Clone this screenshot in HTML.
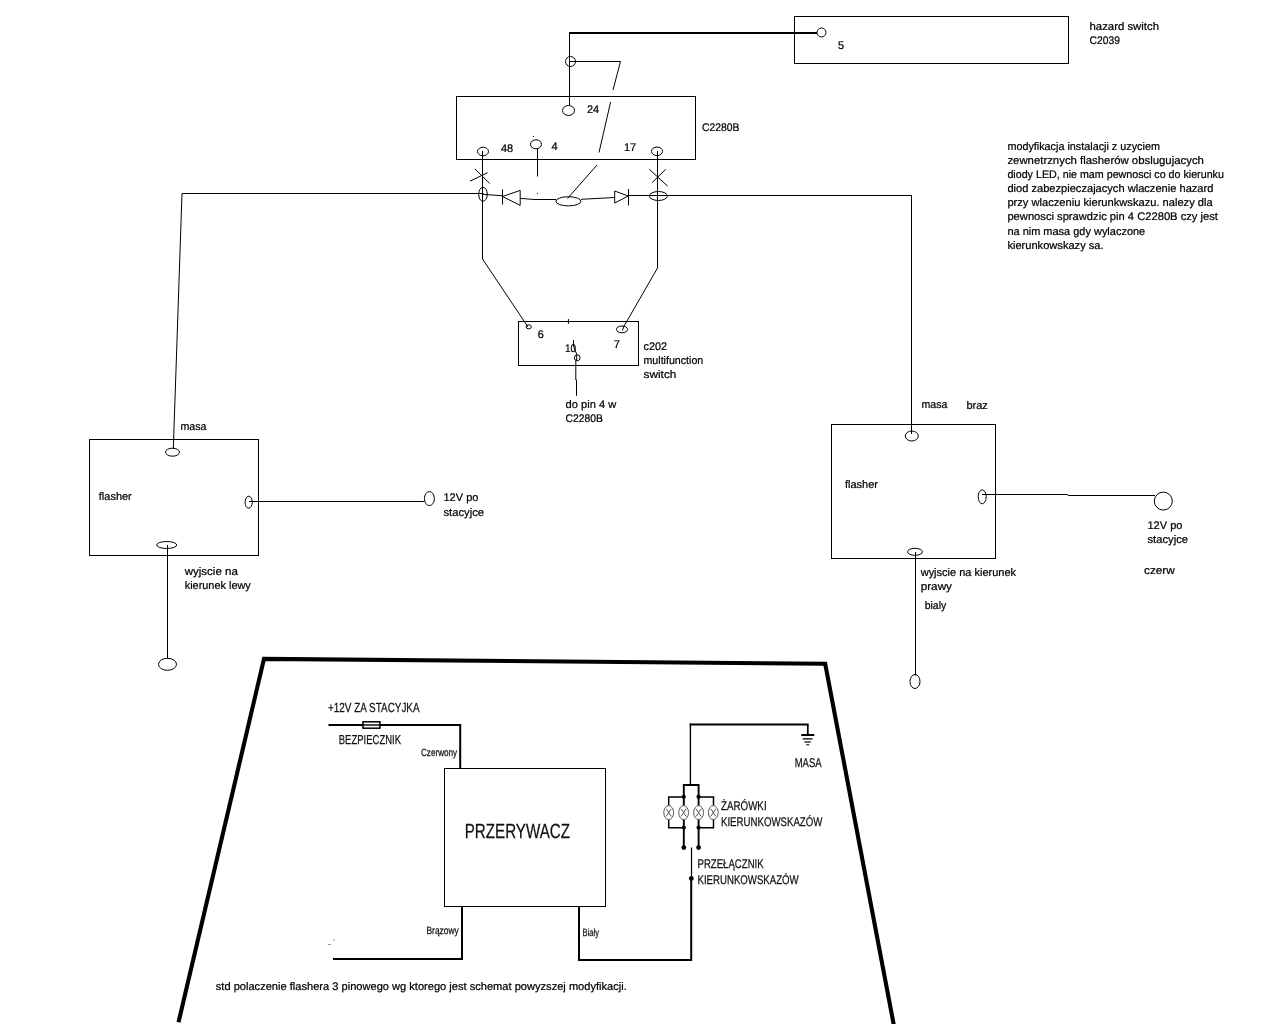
<!DOCTYPE html>
<html lang="pl">
<head>
<meta charset="utf-8">
<title>Schemat modyfikacji kierunkowskazów</title>
<style>
html,body{margin:0;padding:0;background:#fff;}
body{width:1280px;height:1024px;overflow:hidden;position:relative;}
svg{display:block;position:absolute;left:0;top:0;will-change:transform;text-rendering:geometricPrecision;}
text{font-family:"Liberation Sans",Arial,sans-serif;fill:#000;}
.t{font-size:11px;stroke:#000;stroke-width:0.22;}
.t12{font-size:12px;}
.n{fill:#111;stroke:#111;stroke-width:0.25;}
.l{stroke:#000;stroke-width:1;fill:none;}
.l15{stroke:#000;stroke-width:2;fill:none;}
.l2{stroke:#000;stroke-width:2;fill:none;}
.k{stroke:#000;stroke-width:4.1;fill:none;stroke-linejoin:miter;}
.e{stroke:#000;stroke-width:1;fill:none;}
.d{fill:#000;stroke:none;}
</style>
</head>
<body>
<svg width="1280" height="1024" viewBox="0 0 1280 1024">
<rect x="0" y="0" width="1280" height="1024" fill="#fff"/>

<!-- ===== hazard switch ===== -->
<g id="hazard">
<rect class="l" x="794.5" y="16.5" width="274" height="47"/>
<line class="l2" x1="569" y1="33" x2="817" y2="33"/>
<ellipse class="e" cx="821.5" cy="32.5" rx="4.5" ry="4.5"/>
<text class="t" x="838" y="49">5</text>
<text class="t" x="1089.5" y="30" textLength="69.5" lengthAdjust="spacingAndGlyphs">hazard switch</text>
<text class="t" x="1089.5" y="44" textLength="30.4" lengthAdjust="spacingAndGlyphs">C2039</text>
</g>

<!-- ===== C2280B ===== -->
<g id="c2280b">
<line class="l" x1="569.5" y1="33" x2="569.5" y2="105.5"/>
<ellipse class="e" cx="570.5" cy="61.5" rx="5" ry="5"/>
<polyline class="l" points="570,61.5 620.5,61.5 613,90"/>
<line class="l" x1="610.6" y1="102" x2="599" y2="152.5"/>
<line class="l" x1="597" y1="165" x2="567.5" y2="198.5"/>
<rect class="l" x="456.5" y="96.5" width="239" height="63"/>
<ellipse class="e" cx="568.5" cy="110.5" rx="6" ry="5"/>
<text class="t" x="587" y="113">24</text>
<ellipse class="e" cx="483" cy="151.5" rx="5.5" ry="4.3"/>
<text class="t" x="501" y="152">48</text>
<ellipse class="e" cx="536" cy="144.3" rx="5.5" ry="4.5"/>
<text class="t" x="551.5" y="149.5">4</text>
<line class="l" x1="537.5" y1="148.5" x2="537.5" y2="176.5"/>
<text class="t" x="624" y="150.5">17</text>
<ellipse class="e" cx="657" cy="151.3" rx="5.5" ry="4.3"/>
<text class="t" x="702" y="131" textLength="37.3" lengthAdjust="spacingAndGlyphs">C2280B</text>
<rect class="d" x="533" y="136" width="1" height="1"/>
<rect class="d" x="537" y="193" width="1" height="1"/>
</g>

<!-- ===== wires / diodes ===== -->
<g id="wires">
<!-- left wire -->
<polyline class="l" points="483.5,193.5 182,193.5 173.3,449"/>
<polyline class="l" points="482.5,151 482.5,259 528,327"/>
<polyline class="l" points="657.5,151 657.5,268 623.5,327 622.5,330.5"/>
<polyline class="l" points="628.5,195.5 911.5,195.5 911.5,434"/>
<!-- X marks -->
<line class="l" x1="470" y1="181.2" x2="487.6" y2="172.7"/>
<line class="l" x1="475" y1="169" x2="489.6" y2="183.4"/>
<line class="l" x1="649.4" y1="169.4" x2="667.7" y2="186.2"/>
<line class="l" x1="665.7" y1="169.4" x2="652.2" y2="182.5"/>
<!-- ellipses on junctions -->
<ellipse class="e" cx="483" cy="194.3" rx="4.3" ry="7"/>
<ellipse class="e" cx="658.4" cy="196" rx="9" ry="4.5"/>
<!-- left diode -->
<line class="l" x1="483" y1="194.3" x2="502.5" y2="195.8"/>
<line class="l" x1="502.5" y1="189.5" x2="502.5" y2="204.5"/>
<polygon class="l" points="502.5,196.5 520.2,190.4 520.2,205.4"/>
<polyline class="l" points="520.2,198.4 535,199.5 556,199.5"/>
<ellipse class="e" cx="568.4" cy="201.3" rx="12.5" ry="4.6"/>
<line class="l" x1="581" y1="199.3" x2="615" y2="197.5"/>
<!-- right diode -->
<polygon class="l" points="614.7,191 614.7,203 628.2,196"/>
<line class="l" x1="628.5" y1="189" x2="628.5" y2="205.5"/>
</g>

<!-- ===== c202 multifunction switch ===== -->
<g id="c202">
<rect class="l" x="518.5" y="321.5" width="120" height="44"/>
<line class="l" x1="568.4" y1="319" x2="568.4" y2="324"/>
<ellipse class="e" cx="528.7" cy="326.8" rx="2.6" ry="2"/>
<text class="t" x="537.7" y="337.6">6</text>
<ellipse class="e" cx="622" cy="329.4" rx="5.6" ry="3.4"/>
<text class="t" x="613.8" y="347.5">7</text>
<text class="t" x="564.9" y="351.8" textLength="11.2" lengthAdjust="spacingAndGlyphs">10</text>
<polyline class="l" points="573.5,340 573.5,346 576.8,354.5 576.5,361"/>
<ellipse class="e" cx="577.2" cy="357.8" rx="2.8" ry="3"/>
<polyline class="l" points="575.8,360.5 575.8,380 576.5,380 576.5,395.8"/>
<text class="t" x="643.5" y="350" textLength="23.5" lengthAdjust="spacingAndGlyphs">c202</text>
<text class="t" x="643.5" y="364" textLength="59.8" lengthAdjust="spacingAndGlyphs">multifunction</text>
<text class="t" x="643.5" y="377.5" textLength="32.9" lengthAdjust="spacingAndGlyphs">switch</text>
<text class="t" x="565.6" y="408" textLength="50.7" lengthAdjust="spacingAndGlyphs">do pin 4 w</text>
<text class="t" x="565.6" y="421.5" textLength="37.3" lengthAdjust="spacingAndGlyphs">C2280B</text>
</g>

<!-- ===== left flasher ===== -->
<g id="flasherL">
<rect class="l" x="89.5" y="439.5" width="169" height="116"/>
<ellipse class="e" cx="172.5" cy="452.2" rx="7" ry="4"/>
<text class="t" x="180.4" y="429.5" textLength="26" lengthAdjust="spacingAndGlyphs">masa</text>
<text class="t" x="98.8" y="500" textLength="33" lengthAdjust="spacingAndGlyphs">flasher</text>
<ellipse class="e" cx="248.7" cy="502.2" rx="3.6" ry="6"/>
<line class="l" x1="249" y1="501.5" x2="424.5" y2="501.5"/>
<ellipse class="e" cx="429.4" cy="498.6" rx="5" ry="7"/>
<text class="t" x="443.5" y="501">12V po</text>
<text class="t" x="443.5" y="516" textLength="40.6" lengthAdjust="spacingAndGlyphs">stacyjce</text>
<ellipse class="e" cx="166.7" cy="545" rx="10" ry="3.5"/>
<line class="l" x1="167.5" y1="545" x2="167.5" y2="658.5"/>
<ellipse class="e" cx="167.5" cy="664.3" rx="9" ry="6"/>
<text class="t" x="184.7" y="574.8" textLength="53.2" lengthAdjust="spacingAndGlyphs">wyjscie na</text>
<text class="t" x="184.7" y="589" textLength="66.1" lengthAdjust="spacingAndGlyphs">kierunek lewy</text>
</g>

<!-- ===== right flasher ===== -->
<g id="flasherR">
<rect class="l" x="831.5" y="424.5" width="164" height="134"/>
<ellipse class="e" cx="911.8" cy="436" rx="6.5" ry="5"/>
<text class="t" x="921.5" y="408" textLength="26" lengthAdjust="spacingAndGlyphs">masa</text>
<text class="t" x="966.4" y="409">braz</text>
<text class="t" x="845" y="487.5" textLength="33" lengthAdjust="spacingAndGlyphs">flasher</text>
<ellipse class="e" cx="982.2" cy="496.8" rx="4" ry="7"/>
<polyline class="l" points="982,494.5 1067.5,494.5 1068,495.5 1155,495.5"/>
<ellipse class="e" cx="1163.3" cy="501.1" rx="9" ry="9"/>
<text class="t" x="1147.5" y="529">12V po</text>
<text class="t" x="1147.5" y="543" textLength="40.6" lengthAdjust="spacingAndGlyphs">stacyjce</text>
<text class="t" x="1144" y="574" textLength="30.8" lengthAdjust="spacingAndGlyphs">czerw</text>
<ellipse class="e" cx="915" cy="551.8" rx="7.5" ry="3.5"/>
<line class="l" x1="915.5" y1="552" x2="915.5" y2="675.5"/>
<ellipse class="e" cx="915" cy="681.5" rx="5" ry="7"/>
<text class="t" x="920.7" y="576" textLength="95.3" lengthAdjust="spacingAndGlyphs">wyjscie na kierunek</text>
<text class="t" x="920.7" y="590" textLength="31.3" lengthAdjust="spacingAndGlyphs">prawy</text>
<text class="t" x="924.7" y="608.5" textLength="21.6" lengthAdjust="spacingAndGlyphs">bialy</text>
</g>

<!-- ===== description ===== -->
<g id="opis">
<text class="t" x="1007.4" y="150" textLength="152.5" lengthAdjust="spacingAndGlyphs">modyfikacja instalacji z uzyciem</text>
<text class="t" x="1007.4" y="164" textLength="196.5" lengthAdjust="spacingAndGlyphs">zewnetrznych flasherów obslugujacych</text>
<text class="t" x="1007.4" y="178" textLength="216.5" lengthAdjust="spacingAndGlyphs">diody LED, nie mam pewnosci co do kierunku</text>
<text class="t" x="1007.4" y="192.3" textLength="206" lengthAdjust="spacingAndGlyphs">diod zabezpieczajacych wlaczenie hazard</text>
<text class="t" x="1007.4" y="206.3" textLength="205.3" lengthAdjust="spacingAndGlyphs">przy wlaczeniu kierunkwskazu. nalezy dla</text>
<text class="t" x="1007.4" y="220.4" textLength="210.5" lengthAdjust="spacingAndGlyphs">pewnosci sprawdzic pin 4 C2280B czy jest</text>
<text class="t" x="1007.4" y="234.6" textLength="137.8" lengthAdjust="spacingAndGlyphs">na nim masa gdy wylaczone</text>
<text class="t" x="1007.4" y="248.8" textLength="96.2" lengthAdjust="spacingAndGlyphs">kierunkowskazy sa.</text>
</g>

<!-- ===== bottom standard diagram ===== -->
<g id="std">
<polyline class="k" points="178.5,1022.3 264,658.9 825.2,663.8 894,1026"/>
<text class="n" x="328" y="711.8" font-size="13.2" textLength="91.6" lengthAdjust="spacingAndGlyphs">+12V ZA STACYJKA</text>
<polyline class="l15" points="328.5,725 460.2,725 460.2,768.5"/>
<rect x="363" y="721.8" width="16.9" height="6.4" fill="#fff" stroke="#000" stroke-width="1.5"/>
<line class="l" x1="362" y1="725" x2="381" y2="725" style="stroke-width:1.4"/>
<text class="n" x="338.8" y="743.8" font-size="13" textLength="62.2" lengthAdjust="spacingAndGlyphs">BEZPIECZNIK</text>
<text class="n" x="421" y="755.8" font-size="10.5" textLength="36.1" lengthAdjust="spacingAndGlyphs">Czerwony</text>
<rect class="l" x="444.5" y="768.5" width="161" height="138"/>
<text class="n" x="464.7" y="837.6" font-size="20.5" textLength="105.3" lengthAdjust="spacingAndGlyphs">PRZERYWACZ</text>
<text class="n" x="426.5" y="933.8" font-size="10.5" textLength="32.3" lengthAdjust="spacingAndGlyphs">Brązowy</text>
<polyline class="l15" points="462,906.5 462,959 333,959"/>
<line class="l" x1="328" y1="944.5" x2="331" y2="944.5" style="stroke:#999"/>
<line class="l" x1="333.5" y1="939" x2="334.5" y2="941" style="stroke:#999"/>
<polyline class="l15" points="579,906.5 579,960 691.2,960 691.2,878"/>
<line class="l" x1="691.5" y1="847.5" x2="691.5" y2="878" style="stroke-width:1.2"/>
<text class="n" x="582.6" y="935.6" font-size="10.5" textLength="16.4" lengthAdjust="spacingAndGlyphs">Biały</text>
<text class="t" x="215.8" y="989.6" textLength="411" lengthAdjust="spacingAndGlyphs">std polaczenie flashera 3 pinowego wg ktorego jest schemat powyzszej modyfikacji.</text>

<!-- ground -->
<line x1="690.4" y1="723.5" x2="690.4" y2="785" stroke="#000" stroke-width="1.4"/>
<line x1="689.7" y1="724.5" x2="808.6" y2="724.5" stroke="#000" stroke-width="2"/>
<line x1="807.8" y1="724.5" x2="807.8" y2="735" stroke="#000" stroke-width="1.7"/>
<line class="l2" x1="801.3" y1="735" x2="814.3" y2="735"/>
<line class="l" x1="802.7" y1="738.9" x2="812.5" y2="738.9" style="stroke-width:1.3"/>
<line class="l" x1="804.5" y1="742" x2="810.8" y2="742" style="stroke-width:1.2"/>
<line class="l" x1="806.2" y1="744.8" x2="809.3" y2="744.8"/>
<text class="n" x="794.7" y="767" font-size="12.8" textLength="27" lengthAdjust="spacingAndGlyphs">MASA</text>

<!-- bulbs -->
<polyline points="683.8,805.5 683.8,785 698.6,785 698.6,805.5" stroke="#000" stroke-width="1.9" fill="none"/>
<polyline points="683.8,797 668.7,797 668.7,805.5" stroke="#000" stroke-width="1.5" fill="none"/>
<polyline points="698.6,797 713.5,797 713.5,805.5" stroke="#000" stroke-width="1.5" fill="none"/>
<polyline points="668.7,819.5 668.7,827.8 683.8,827.8" stroke="#000" stroke-width="1.5" fill="none"/>
<polyline points="713.5,819.5 713.5,827.8 698.6,827.8" stroke="#000" stroke-width="1.5" fill="none"/>
<line x1="683.8" y1="819.5" x2="683.8" y2="847.5" stroke="#000" stroke-width="1.9"/>
<line x1="698.6" y1="819.5" x2="698.6" y2="847.5" stroke="#000" stroke-width="1.9"/>
<g id="bulbs" stroke="#555" stroke-width="1" fill="none">
<ellipse cx="668.7" cy="812.6" rx="4.9" ry="7"/>
<ellipse cx="683.6" cy="812.6" rx="4.9" ry="7"/>
<ellipse cx="698.6" cy="812.6" rx="4.9" ry="7"/>
<ellipse cx="713.3" cy="812.6" rx="4.9" ry="7"/>
<path d="M666.2,808.8 l5,7.6 m0,-7.6 l-5,7.6 M681.1,808.8 l5,7.6 m0,-7.6 l-5,7.6 M696.1,808.8 l5,7.6 m0,-7.6 l-5,7.6 M710.8,808.8 l5,7.6 m0,-7.6 l-5,7.6"/>
</g>
<circle class="d" cx="683.8" cy="796.8" r="2.1"/>
<circle class="d" cx="698.6" cy="796.8" r="2.1"/>
<circle class="d" cx="683.8" cy="827.6" r="2.1"/>
<circle class="d" cx="698.6" cy="827.6" r="2.1"/>
<circle class="d" cx="683.8" cy="847.6" r="2.4"/>
<circle class="d" cx="698.6" cy="847.6" r="2.4"/>
<circle class="d" cx="691.3" cy="878.4" r="2.4"/>
<text class="n" x="721" y="810.2" font-size="12.6" textLength="45.6" lengthAdjust="spacingAndGlyphs">ŻARÓWKI</text>
<text class="n" x="721" y="826" font-size="12.6" textLength="101.4" lengthAdjust="spacingAndGlyphs">KIERUNKOWSKAZÓW</text>
<text class="n" x="697.5" y="867.7" font-size="12.6" textLength="66.2" lengthAdjust="spacingAndGlyphs">PRZEŁĄCZNIK</text>
<text class="n" x="697.5" y="883.6" font-size="12.6" textLength="101.2" lengthAdjust="spacingAndGlyphs">KIERUNKOWSKAZÓW</text>
</g>
</svg>
</body>
</html>
